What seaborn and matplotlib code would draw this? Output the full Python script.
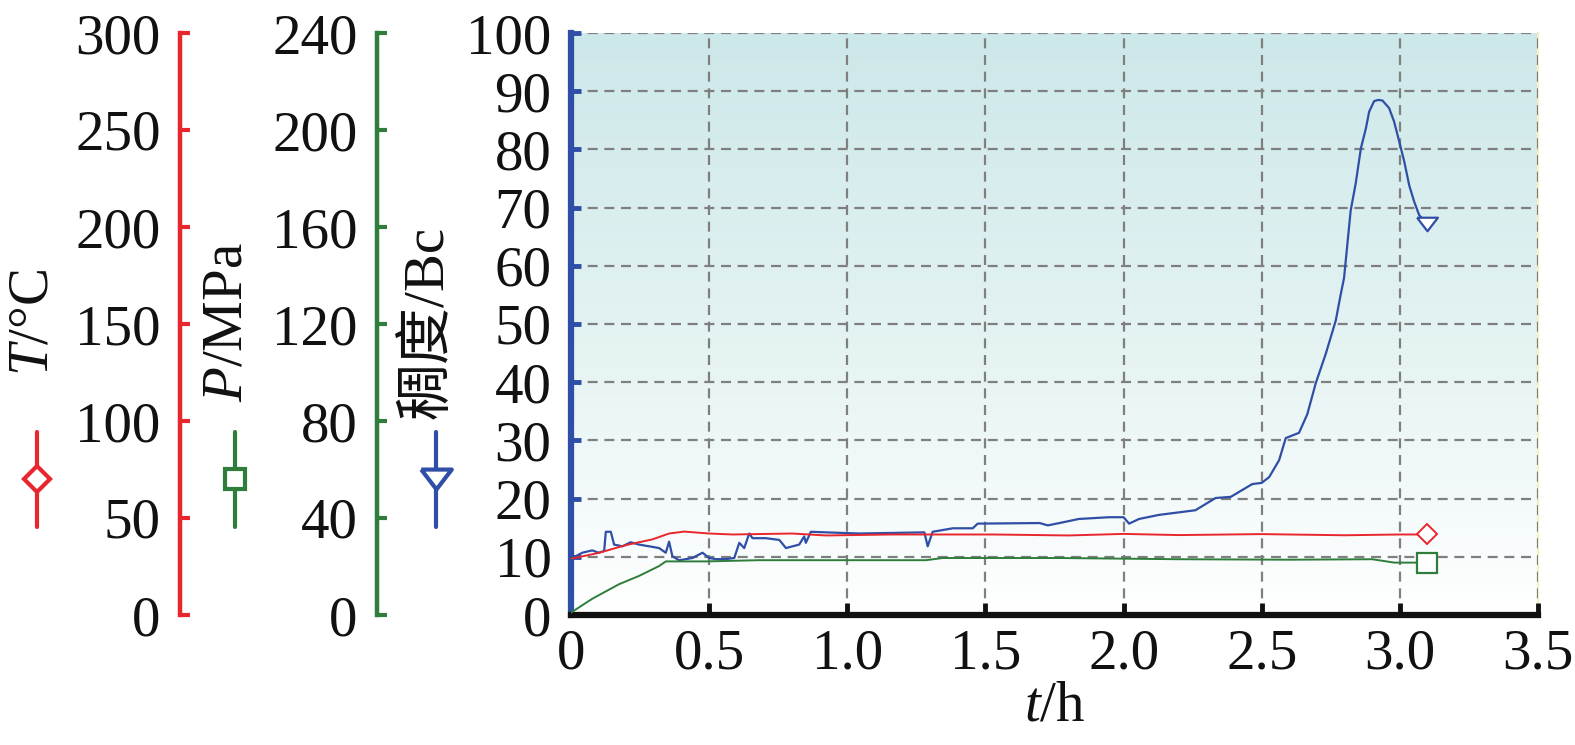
import numpy as np
import pandas as pd
import matplotlib
matplotlib.use("Agg")
import matplotlib.pyplot as plt
import seaborn as sns
from matplotlib.lines import Line2D
from matplotlib.colors import LinearSegmentedColormap

# ---------------- data ----------------
t_bc = [0.0, 0.005, 0.041, 0.077, 0.10, 0.12, 0.126, 0.144, 0.156, 0.186, 0.216, 0.246,
        0.283, 0.319, 0.343, 0.355, 0.367, 0.391, 0.44, 0.476, 0.5, 0.524, 0.56, 0.591,
        0.609, 0.627, 0.645, 0.657, 0.705, 0.754, 0.778, 0.826, 0.844, 0.85, 0.868, 0.923,
        1.043, 1.279, 1.291, 1.309, 1.382, 1.454, 1.472, 1.696, 1.726, 1.768, 1.838, 1.947,
        2.0, 2.02, 2.056, 2.128, 2.26, 2.333, 2.388, 2.466, 2.5, 2.527, 2.563, 2.587, 2.635,
        2.665, 2.696, 2.732, 2.768, 2.786, 2.798, 2.81, 2.822, 2.84, 2.859, 2.877, 2.889,
        2.907, 2.922, 2.937, 2.961, 2.979, 2.998, 3.016, 3.034, 3.052, 3.07, 3.1]
bc = [9.5, 9.8, 10.7, 11.1, 10.7, 11.0, 14.3, 14.3, 12.1, 11.8, 12.5, 12.1,
      11.8, 11.5, 10.7, 12.6, 10.1, 9.4, 9.8, 10.7, 9.8, 9.6, 9.6, 9.8,
      12.4, 11.5, 14.0, 13.2, 13.2, 12.9, 11.5, 12.1, 13.5, 12.4, 14.3, 14.2,
      14.0, 14.2, 11.8, 14.3, 14.9, 14.9, 15.7, 15.8, 15.4, 15.8, 16.5, 16.8,
      16.8, 15.7, 16.5, 17.2, 18.0, 20.1, 20.3, 22.5, 22.7, 23.7, 26.6, 30.4, 31.3,
      34.5, 39.9, 44.9, 50.6, 55.1, 57.9, 63.7, 69.5, 74.1, 80.2, 83.6, 86.5,
      88.3, 88.5, 88.4, 87.1, 84.8, 81.3, 77.9, 73.8, 71.0, 68.7, 67.2]

t_T = [0.0, 0.1, 0.198, 0.295, 0.355, 0.41, 0.5, 0.585, 0.8, 0.923, 1.16, 1.53, 1.8,
       2.0, 2.2, 2.5, 2.8, 3.0, 3.1]
temp = [29.0, 32.0, 36.0, 39.0, 42.0, 43.0, 42.0, 41.5, 42.0, 41.0, 41.5, 41.5, 41.0,
        41.8, 41.2, 41.7, 41.1, 41.5, 41.5]

t_P = [0.0, 0.077, 0.174, 0.246, 0.319, 0.343, 0.488, 0.681, 1.285, 1.345, 1.768,
       2.2, 2.6, 2.9, 2.98, 3.1]
pres = [1.0, 6.7, 12.7, 16.1, 20.2, 22.1, 22.1, 22.6, 22.6, 23.5, 23.5,
        23.0, 22.8, 23.0, 21.6, 21.6]

x_ticks = [0, 0.5, 1.0, 1.5, 2.0, 2.5, 3.0, 3.5]
x_ticklabels = ["0", "0.5", "1.0", "1.5", "2.0", "2.5", "3.0", "3.5"]
bc_ticks = list(range(0, 101, 10))
T_ticks = list(range(0, 301, 50))
P_ticks = list(range(0, 241, 40))

# ---------------- style ----------------
sns.set_theme(style="white")
plt.rcParams["font.family"] = ["Liberation Serif", "Noto Sans CJK SC"]
plt.rcParams["mathtext.fontset"] = "custom"
plt.rcParams["mathtext.rm"] = "Liberation Serif"
plt.rcParams["mathtext.it"] = "Liberation Serif:italic"
plt.rcParams["text.color"] = "#111111"
plt.rcParams["xtick.labelcolor"] = "#111111"
plt.rcParams["ytick.labelcolor"] = "#111111"
plt.rcParams["axes.labelcolor"] = "#111111"

RED = "#e8262d"
GREEN = "#2f7d3a"
BLUE = "#2f4fa6"
FS = 41

fig = plt.figure(figsize=(15.75, 7.45), dpi=100)
ax = fig.add_axes([571/1575, 1-615/745, (1538-571)/1575, (615-33)/745])
ax.set_xlim(0, 3.5)
ax.set_ylim(0, 100)

# gradient background
cmap = LinearSegmentedColormap.from_list("bg", ["#ffffff", "#e3f2f2", "#cde8e9"])
ax.imshow(np.linspace(0, 1, 256)[:, None], extent=[0, 3.5, 0, 100], origin="lower",
          aspect="auto", cmap=cmap, zorder=-5, interpolation="bilinear")
ax.set_aspect("auto")

# grid
ax.grid(True, color="#7f7f7f", linestyle=(0, (4.5, 3)), linewidth=1.6)
ax.set_axisbelow(False)
for gl in ax.get_xgridlines() + ax.get_ygridlines():
    gl.set_zorder(1)

df_bc = pd.DataFrame({"t": t_bc, "v": bc})
df_T = pd.DataFrame({"t": t_T, "v": temp})
df_P = pd.DataFrame({"t": t_P, "v": pres})

axT = ax.twinx()
axP = ax.twinx()
axT.set_ylim(0, 300)
axP.set_ylim(0, 240)

sns.lineplot(data=df_bc, x="t", y="v", ax=ax, color=BLUE, lw=1.6, sort=False,
             estimator=None, zorder=3)
sns.lineplot(data=df_T, x="t", y="v", ax=axT, color=RED, lw=1.4, sort=False,
             estimator=None, zorder=3)
sns.lineplot(data=df_P, x="t", y="v", ax=axP, color=GREEN, lw=1.4, sort=False,
             estimator=None, zorder=3)

tri = [(-1, 0.65), (1, 0.65), (0, -0.65), (-1, 0.65)]
ax.plot([t_bc[-1]], [bc[-1]], marker=tri, ms=15, mfc="white", mec=BLUE, mew=1.6,
        ls="none", zorder=4)
axT.plot([t_T[-1]], [temp[-1]], marker="D", ms=10, mfc="white", mec=RED, mew=1.4,
         ls="none", zorder=4)
axP.plot([t_P[-1]], [pres[-1]], marker="s", ms=14, mfc="white", mec=GREEN, mew=1.6,
         ls="none", zorder=4)

# main axes spines / ticks
ax.spines["top"].set_visible(False)
ax.spines["right"].set_color("#f2f2c0")
ax.spines["right"].set_linewidth(1.5)
ax.spines["left"].set_color(BLUE)
ax.spines["left"].set_linewidth(4.5)
ax.spines["left"].set_zorder(10)
ax.spines["bottom"].set_color("#111111")
ax.spines["bottom"].set_linewidth(4.5)
ax.spines["bottom"].set_zorder(10)
ax.set_xticks(x_ticks)
ax.set_xticklabels(x_ticklabels)
ax.set_yticks(bc_ticks)
ax.tick_params(axis="x", direction="in", length=9, width=3.5, color="#111111",
               labelsize=FS, pad=10, bottom=True, top=False)
ax.tick_params(axis="y", direction="in", length=7, width=3.5, color=BLUE,
               labelsize=FS, pad=14, left=True, right=False)
ax.set_xlabel(r"$t$/h", fontsize=FS, labelpad=0)
ax.set_ylabel("")

# extra y axes
for a, pos, col, ticks in [(axT, (180-571)/967, RED, T_ticks), (axP, (377-571)/967, GREEN, P_ticks)]:
    for s in ["top", "right", "bottom"]:
        a.spines[s].set_visible(False)
    a.spines["left"].set_visible(True)
    a.spines["left"].set_position(("axes", pos))
    a.spines["left"].set_color(col)
    a.spines["left"].set_linewidth(3.2)
    a.yaxis.set_ticks_position("left")
    a.yaxis.set_label_position("left")
    a.set_yticks(ticks)
    a.tick_params(axis="y", direction="in", length=7, width=3, color=col,
                  labelsize=FS, pad=14, left=True, right=False)
    a.set_ylabel("")
    a.grid(False)

# axis titles with legend keys
labels = [(33, r"$T$/°C", RED, "D", 13, 37),
          (228, r"$P$/MPa", GREEN, "s", 15, 235),
          (428, "稠度/Bc", BLUE, tri, 22, 436)]
for xl, txt, col, mk, ms, xk in labels:
    fig.text(xl/1575, 1-322/745, txt, rotation=90, ha="center", va="center",
             fontsize=FS, color="#111111")
    fig.add_artist(Line2D([xk/1575, xk/1575], [1-432/745, 1-527/745],
                          transform=fig.transFigure, color=col, lw=3))
    fig.add_artist(Line2D([xk/1575], [1-479/745], transform=fig.transFigure,
                          marker=mk, ms=ms, mfc="white", mec=col, mew=3, ls="none"))

fig.savefig("out.png", dpi=100)
